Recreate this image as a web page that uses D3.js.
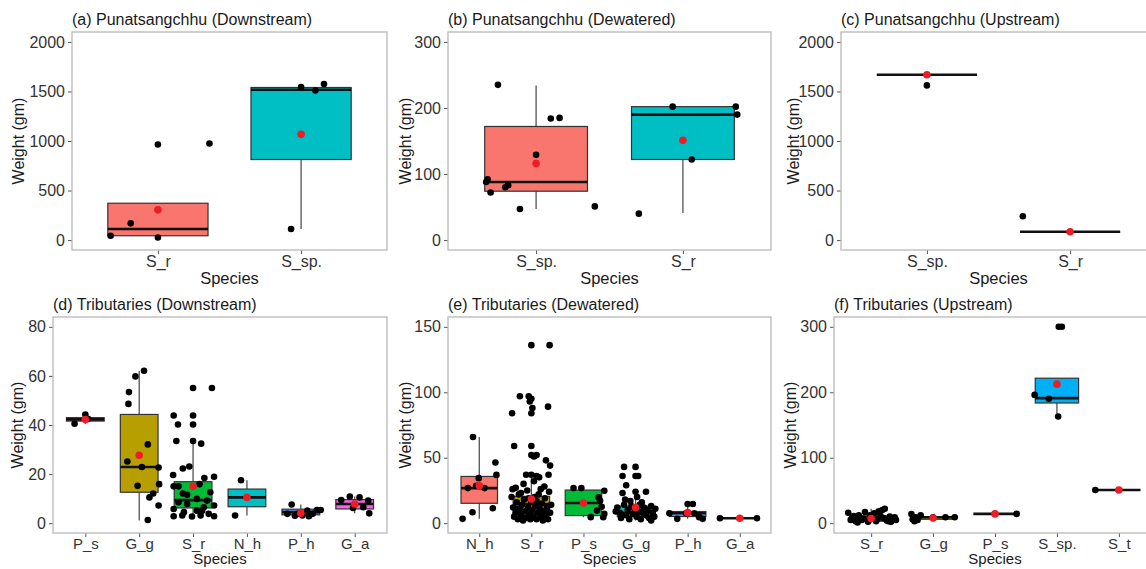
<!DOCTYPE html>
<html>
<head>
<meta charset="utf-8">
<script src="https://cdn.jsdelivr.net/npm/d3@7"></script>
<style>
body { margin: 0; background: #fff; }
svg { font-family: "Liberation Sans", Arial, sans-serif; }
</style>
</head>
<body>
<svg id="chart" width="1146" height="569"></svg>
<script>
// panel titles, categories and y limits
var titles = ["(a) Punatsangchhu (Downstream)", "(b) Punatsangchhu (Dewatered)", "(c) Punatsangchhu (Upstream)",
              "(d) Tributaries (Downstream)", "(e) Tributaries (Dewatered)", "(f) Tributaries (Upstream)"];
var catsA = ["S_r", "S_sp."];
var catsB = ["S_sp.", "S_r"];
var catsC = ["S_sp.", "S_r"];
var catsD = ["P_s", "G_g", "S_r", "N_h", "P_h", "G_a"];
var catsE = ["N_h", "S_r", "P_s", "G_g", "P_h", "G_a"];
var catsF = ["S_r", "G_g", "P_s", "S_sp.", "S_t"];
var yMax = [2000, 300, 2000, 80, 150, 300];
var yTicks = [[0, 500, 1000, 1500, 2000], [0, 100, 200, 300], [0, 500, 1000, 1500, 2000],
              [0, 20, 40, 60, 80], [0, 50, 100, 150], [0, 100, 200, 300]];

var hue2 = ["#F8766D", "#00BFC4"];
var hue6 = ["#F8766D", "#B79F00", "#00BA38", "#00BFC4", "#619CFF", "#F564E3"];
var hue5 = ["#F8766D", "#A3A500", "#00BF7D", "#00B0F6", "#E76BF3"];

// box stats per category: [whiskerLow, q1, median, q3, whiskerHigh, mean]
var statsA = [[26, 44, 112, 372, 372, 305], [112, 813, 1517, 1540, 1575, 1067]];
var statsB = [[47, 74, 88, 172, 234, 116], [41, 122, 190, 202, 202, 151]];
var statsC = [[1669, 1669, 1669, 1669, 1669, 1669], [84, 84, 84, 84, 84, 84]];
var statsD = [[40.5, 41.6, 42.3, 43, 44.3, 42.2], [1.1, 12.6, 22.9, 44.3, 62, 27.7], [2.7, 6.2, 9.4, 16.9, 33.5, 15],
              [3.1, 6.7, 10.5, 13.9, 17.5, 10.5], [2.4, 3.4, 4.5, 5.7, 7.6, 4], [4, 5.8, 7.8, 9.6, 10.9, 7.8]];
var statsE = [[3.3, 15.2, 26.8, 35.7, 65.8, 28.6], [2, 7.1, 14.7, 20.5, 37, 18.5], [4.6, 5.8, 15.4, 25.3, 26.8, 15.4],
              [2, 5, 8, 13, 24, 12], [3.3, 5.1, 7.6, 8.9, 14.7, 8.1], [3.8, 3.8, 3.8, 3.8, 3.8, 3.8]];
var statsF = [[1, 3, 6, 11, 22, 7], [3, 6, 9, 10, 14, 8], [14.2, 14.2, 14.2, 14.2, 14.2, 14.2],
              [163, 183.6, 191, 221.5, 221.5, 212.4], [50.6, 50.6, 50.6, 50.6, 50.6, 50.6]];

// jittered observations per category: [x offset in category steps, weight]
var pointsA = [
  [[-0.33, 44], [-0.19, 169], [0.0, 26], [0.0, 965], [0.36, 975]],
  [[-0.07, 112], [0.1, 1510], [0.16, 1575], [0.0, 1545]]
];
var pointsB = [
  [[-0.26, 235], [-0.33, 92], [-0.34, 88], [-0.31, 72], [-0.21, 80], [-0.19, 83], [-0.11, 47], [0.0, 129], [0.1, 184], [0.16, 185], [0.4, 51]],
  [[-0.3, 40], [-0.07, 202], [0.06, 122], [0.36, 202], [0.37, 190]]
];
var pointsC = [
  [[0.0, 1561]],
  [[-0.33, 240]]
];
var pointsD = [
  [[-0.2, 40.5], [0.0, 44.3], [0.05, 42.5]],
  [[-0.07, 59.8], [0.09, 62.1], [-0.19, 53.4], [-0.2, 48.6], [-0.22, 25.1], [0.16, 32.1], [0.05, 22.9], [0.36, 22.7],
   [0.37, 15.9], [0.26, 12.1], [-0.03, 15.2], [0.19, 10.5], [0.36, 7.2], [0.16, 1.3]],
  [[-0.36, 43.9], [0.0, 43.9], [-0.28, 40.2], [0.0, 40.2], [0.0, 55.1], [0.35, 55.1], [-0.31, 33.5], [0.0, 33.5],
   [0.15, 32.4], [-0.19, 22.3], [-0.07, 23.1], [-0.37, 19.6], [0.39, 18.9], [-0.36, 15], [-0.19, 12.1], [0.21, 18.4],
   [0.12, 15.9], [-0.36, 5.8], [-0.36, 2.8], [-0.17, 4.5], [-0.11, 7.8], [0.07, 9.9], [0.17, 5.1], [0.26, 9.2],
   [0.29, 3.8], [0.39, 7.2], [0.39, 2.8], [-0.2, 3.1], [0.14, 3.1], [-0.02, 2.7], [-0.11, 11.6], [0.32, 12.6],
   [0.07, 5.1], [-0.27, 15], [-0.27, 8.5], [0.2, 6.5]],
  [[-0.11, 17.5], [-0.22, 3.1]],
  [[-0.17, 7.6], [-0.25, 3.8], [-0.06, 3.8], [0.03, 3.1], [0.12, 5.1], [0.22, 3.8], [0.3, 5.4], [0.37, 5.4], [0.15, 2.8], [-0.11, 3]],
  [[-0.25, 9.4], [-0.09, 10.9], [0.09, 10.5], [-0.03, 6.2], [0.25, 9.2], [0.27, 4], [0.16, 6.5]]
];
var pointsE = [
  [[-0.32, 3.3], [-0.12, 65.8], [-0.13, 8.3], [-0.22, 26.8], [-0.06, 28.6], [-0.01, 34.4], [0.1, 26.8], [0.31, 46.3], [0.33, 36.9], [0.26, 11.4]],
  [[0.0, 136], [0.35, 136], [-0.37, 84], [-0.22, 97], [-0.05, 97], [0.0, 95], [-0.03, 93], [0.02, 88], [0.0, 84], [0.32, 89],
   [-0.33, 59], [0.0, 59], [0.0, 52], [0.05, 51], [0.1, 52], [0.28, 48], [0.36, 44], [0.33, 37], [0.1, 36], [0.0, 37],
   [-0.1, 37], [0.05, 32], [-0.15, 30], [0.25, 28], [-0.3, 27], [0.15, 35],
   [-0.38, 20], [-0.35, 12], [-0.33, 5], [-0.3, 8], [-0.28, 16], [-0.26, 3], [-0.24, 22], [-0.22, 10], [-0.2, 6], [-0.18, 14],
   [-0.16, 2], [-0.14, 18], [-0.12, 9], [-0.1, 4], [-0.08, 25], [-0.06, 12], [-0.04, 7], [-0.02, 3], [0.0, 16], [0.02, 10],
   [0.04, 5], [0.06, 20], [0.08, 13], [0.1, 3], [0.12, 8], [0.14, 22], [0.16, 11], [0.18, 5], [0.2, 15], [0.22, 2],
   [0.24, 9], [0.26, 19], [0.28, 6], [0.3, 12], [0.32, 3], [0.34, 24], [0.36, 8], [0.38, 14], [-0.36, 26], [-0.2, 23],
   [0.18, 26], [0.0, 4], [-0.25, 11], [0.1, 17], [-0.05, 19], [0.27, 4]],
  [[-0.19, 26.8], [-0.04, 26.8], [0.4, 24.8], [0.32, 17.2], [0.26, 9.6], [0.38, 4.6], [0.14, 4.6], [0.35, 12.6], [0.29, 19.7], [0.4, 7.1]],
  [[-0.22, 43], [0.0, 43], [-0.25, 36], [0.0, 36], [0.05, 36], [-0.18, 29], [0.0, 24], [0.2, 24], [-0.25, 23], [-0.1, 17],
   [0.03, 20], [-0.35, 12], [-0.3, 8], [-0.28, 4], [-0.22, 14], [-0.18, 6], [-0.15, 10], [-0.12, 3], [-0.08, 13], [-0.05, 7],
   [-0.02, 11], [0.02, 5], [0.05, 9], [0.08, 14], [0.1, 3], [0.13, 8], [0.16, 12], [0.2, 6], [0.23, 10], [0.26, 4],
   [0.3, 13], [0.33, 8], [0.36, 5], [0.38, 11], [-0.38, 9], [0.12, 16], [-0.2, 18], [0.3, 2]],
  [[-0.35, 7.6], [-0.2, 3.3], [0.0, 14.7], [0.1, 14.7], [-0.03, 7.6], [0.22, 4.6], [0.29, 3.3], [0.13, 7.6]],
  [[-0.38, 3.8], [0.33, 3.8]]
];
var pointsF = [
  [[-0.37, 16], [-0.3, 8], [-0.25, 3], [-0.2, 12], [-0.15, 5], [-0.1, 17], [-0.05, 2], [0.0, 9], [0.05, 15], [0.1, 6],
   [0.12, 18], [0.18, 20], [0.22, 22], [0.25, 4], [0.3, 10], [0.35, 7], [0.4, 5], [-0.33, 5], [-0.28, 11], [-0.12, 7],
   [0.08, 3], [0.2, 8], [0.28, 3], [0.38, 9], [-0.02, 12], [0.15, 11], [-0.22, 1], [0.32, 2]],
  [[-0.35, 14], [-0.33, 6], [-0.3, 3], [-0.28, 9], [-0.2, 12], [-0.25, 5], [0.0, 9], [0.2, 9], [0.35, 9]],
  [[0.35, 14.2]],
  [[0.03, 300], [0.08, 300], [-0.36, 196], [-0.13, 190], [0.02, 163]],
  [[-0.38, 50.6]]
];

var panels = [
  {cats: catsA, stats: statsA, points: pointsA, fill: hue2, x0: 72, x1: 387, y0: 32, y1: 250, tx: 18},
  {cats: catsB, stats: statsB, points: pointsB, fill: hue2, x0: 448, x1: 771, y0: 32, y1: 250, tx: 405},
  {cats: catsC, stats: statsC, points: pointsC, fill: hue2, x0: 841, x1: 1156, y0: 32, y1: 250, tx: 793},
  {cats: catsD, stats: statsD, points: pointsD, fill: hue6, x0: 53, x1: 387, y0: 317, y1: 533, tx: 17},
  {cats: catsE, stats: statsE, points: pointsE, fill: hue6, x0: 448, x1: 771, y0: 317, y1: 533, tx: 405},
  {cats: catsF, stats: statsF, points: pointsF, fill: hue5, x0: 834, x1: 1156, y0: 317, y1: 533, tx: 790}
];

var svg = d3.select("#chart");
svg.append("rect").attr("width", 1146).attr("height", 569).attr("fill", "#fff");

panels.forEach(function (p, i) {
    var g = svg.append("g");
    var top = i < 3;
    var x = d3.scalePoint().domain(p.cats).range([p.x0, p.x1]).padding(0.6);
    var y = d3.scaleLinear().domain([-0.05 * yMax[i], 1.05 * yMax[i]]).range([p.y1, p.y0]);
    var step = x.step();
    var bw = 0.7 * step;

    // title
    g.append("text")
        .attr("x", p.x0).attr("y", p.y0 - 7)
        .attr("font-size", 16).attr("fill", "#1a1a1a")
        .text(titles[i]);

    // y axis
    var yAxis = d3.axisLeft(y).tickValues(yTicks[i]).tickFormat(d3.format("d")).tickSize(4).tickPadding(3);
    var ya = g.append("g").attr("transform", "translate(" + p.x0 + ",0)").call(yAxis);
    ya.select(".domain").remove();
    ya.selectAll("line").attr("stroke", "#555");
    ya.selectAll("text").attr("font-size", 16).attr("fill", "#333").attr("font-family", "Liberation Sans, Arial, sans-serif");

    // x axis
    var xAxis = d3.axisBottom(x).tickSize(4).tickPadding(top ? 2 : 1);
    var xa = g.append("g").attr("transform", "translate(0," + p.y1 + ")").call(xAxis);
    xa.select(".domain").remove();
    xa.selectAll("line").attr("stroke", "#555");
    xa.selectAll("text").attr("font-size", top ? 16 : 15).attr("fill", "#333").attr("font-family", "Liberation Sans, Arial, sans-serif");

    // axis titles
    g.append("text")
        .attr("x", (p.x0 + p.x1) / 2)
        .attr("y", p.y1 + (top ? 34 : 31))
        .attr("text-anchor", "middle").attr("font-size", top ? 16.5 : 15).attr("fill", "#1a1a1a")
        .text("Species");
    g.append("text")
        .attr("transform", "translate(" + p.tx + "," + (p.y0 + p.y1) / 2 + ") rotate(-90)")
        .attr("text-anchor", "middle").attr("dominant-baseline", "central")
        .attr("font-size", 16).attr("fill", "#1a1a1a")
        .text("Weight (gm)");

    // boxes
    p.cats.forEach(function (c, j) {
        var s = p.stats[j];
        var cx = x(c);
        g.append("line").attr("x1", cx).attr("x2", cx)
            .attr("y1", y(s[3])).attr("y2", y(s[4]))
            .attr("stroke", "#444").attr("stroke-width", 1.2);
        g.append("line").attr("x1", cx).attr("x2", cx)
            .attr("y1", y(s[1])).attr("y2", y(s[0]))
            .attr("stroke", "#444").attr("stroke-width", 1.2);
        g.append("rect")
            .attr("x", cx - bw / 2).attr("width", bw)
            .attr("y", y(s[3])).attr("height", Math.max(0, y(s[1]) - y(s[3])))
            .attr("fill", p.fill[j]).attr("stroke", "#333").attr("stroke-width", 1.2);
        g.append("line").attr("x1", cx - bw / 2).attr("x2", cx + bw / 2)
            .attr("y1", y(s[2])).attr("y2", y(s[2]))
            .attr("stroke", "#111").attr("stroke-width", 2.6);
    });

    // jittered points
    p.cats.forEach(function (c, j) {
        g.selectAll(null)
            .data(p.points[j])
            .enter()
            .append("circle")
            .attr("cx", function (d) { return x(c) + d[0] * step; })
            .attr("cy", function (d) { return y(d[1]); })
            .attr("r", 3.3)
            .attr("fill", "#000");
    });

    // means
    g.selectAll(null)
        .data(p.cats)
        .enter()
        .append("circle")
        .attr("cx", function (d) { return x(d); })
        .attr("cy", function (d, j) { return y(p.stats[j][5]); })
        .attr("r", 3.8)
        .attr("fill", "#ee1c25");

    // panel border
    g.append("rect")
        .attr("x", p.x0).attr("y", p.y0)
        .attr("width", p.x1 - p.x0).attr("height", p.y1 - p.y0)
        .attr("fill", "none").attr("stroke", "#b8b8b8").attr("stroke-width", 1.3);
});
</script>
</body>
</html>
